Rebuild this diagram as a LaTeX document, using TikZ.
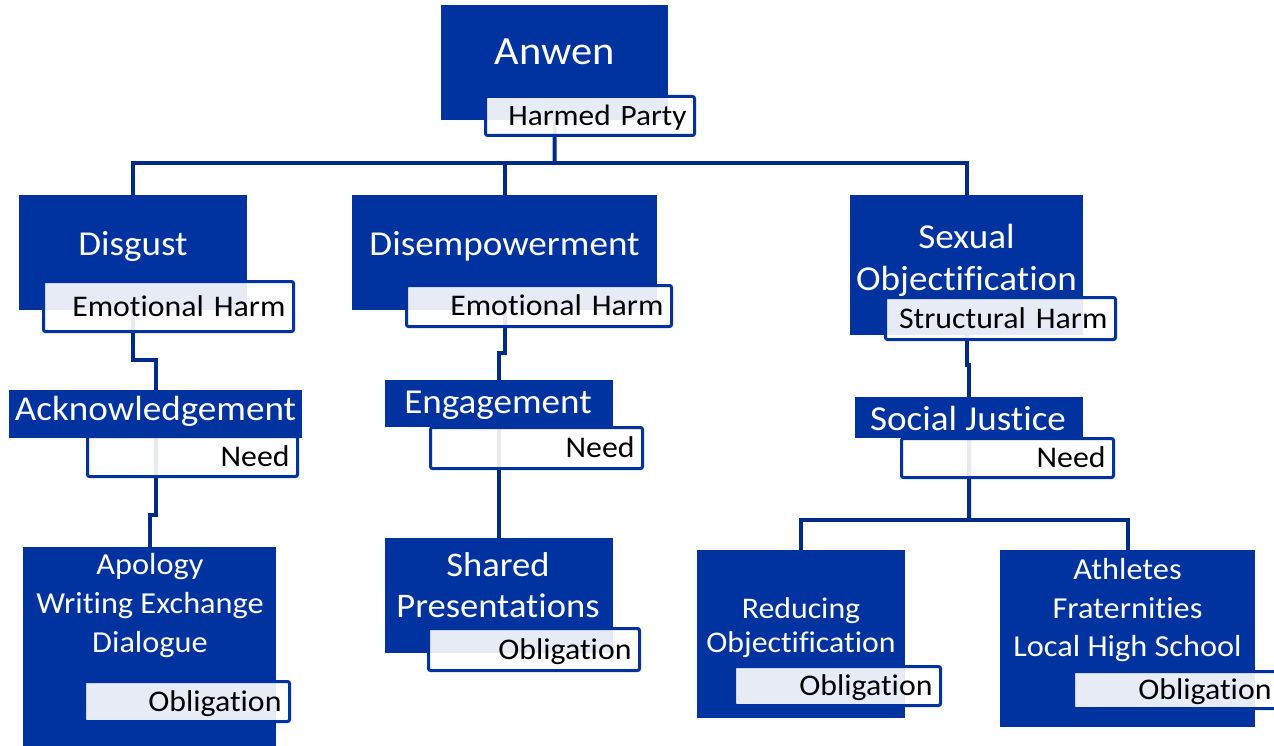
\documentclass[tikz,border=0pt]{standalone}
\usepackage{fontspec}
\setmainfont{Carlito}[Ligatures=NoCommon,FakeStretch=1.06]
\definecolor{boxblue}{RGB}{0,51,160}
\definecolor{linkblue}{RGB}{0,42,135}

\begin{document}
\begin{tikzpicture}[x=1pt,y=-1pt,
  box/.style={fill=boxblue,inner sep=0pt,anchor=north west},
  tag/.style={draw=boxblue,line width=3pt,fill=white,fill opacity=0.9,text opacity=1,
    rounded corners=2pt,inner xsep=8pt,inner ysep=0pt,align=right,
    font=\fontsize{30}{34}\selectfont,text height=19pt,text depth=0pt},
  title/.style={text=white,align=center,inner sep=0pt},
  big/.style={font=\fontsize{35}{42}\selectfont},
  one/.style={text height=22pt,text depth=0pt},
  link/.style={draw=linkblue,line width=4pt}]
\useasboundingbox (0,0) rectangle (1274,746);
\clip (0,0) rectangle (1274,746);

\node[box,minimum width=227pt,minimum height=115pt] (anwen) at (441,5) {};
\node[box,minimum width=228pt,minimum height=115pt] (disgust) at (19,195) {};
\node[box,minimum width=305pt,minimum height=115pt] (disemp) at (352,195) {};
\node[box,minimum width=233pt,minimum height=140pt] (sexual) at (850,195) {};
\node[box,minimum width=293pt,minimum height=48pt] (ack) at (9,390) {};
\node[box,minimum width=228pt,minimum height=47pt] (engage) at (385,380) {};
\node[box,minimum width=228pt,minimum height=41pt] (social) at (855,397) {};
\node[box,minimum width=253pt,minimum height=205pt] (apology) at (23,547) {};
\node[box,minimum width=228pt,minimum height=115pt] (shared) at (385,538) {};
\node[box,minimum width=208pt,minimum height=168pt] (reducing) at (697,550) {};
\node[box,minimum width=255pt,minimum height=177pt] (athletes) at (1000,550) {};

\coordinate (topbar) at (554.5,163);
\coordinate (lowbar) at (969,520);
\draw[link] (anwen.south) -- (topbar);
\draw[link] (disgust.north) |- (topbar);
\draw[link] (disemp.north) |- (topbar);
\draw[link] (sexual.north) |- (topbar);
\draw[link] (disgust.south) -- ++(0,50) -| (ack.north);
\draw[link] (ack.south) -- ++(0,77) -| (apology.north);
\draw[link] (disemp.south) -- ++(0,43) -| (engage.north);
\draw[link] (engage.south) -- (shared.north);
\draw[link] (sexual.south) -- ++(0,30) -| (social.north);
\draw[link] (social.south) -- (lowbar);
\draw[link] (reducing.north) |- (lowbar);
\draw[link] (athletes.north) |- (lowbar);

\node[tag,text width=193pt,minimum height=39pt,font=\fontsize{29.5}{33}\selectfont] (anwen-tag) at (590,116) {Harmed Party};
\node[tag,text width=234pt,minimum height=50pt] (disgust-tag) at (168.5,306.5) {Emotional Harm};
\node[tag,text width=249pt,minimum height=41pt] (disemp-tag) at (539,306) {Emotional Harm};
\node[tag,text width=214pt,minimum height=42pt] (sexual-tag) at (1000.5,318.5) {Structural Harm};
\node[tag,text width=194pt,minimum height=40pt] (ack-tag) at (192.5,456.5) {Need};
\node[tag,text width=196pt,minimum height=41pt] (engage-tag) at (536.5,448) {Need};
\node[tag,text width=196pt,minimum height=39pt] (social-tag) at (1007.5,458) {Need};
\node[tag,text width=189pt,minimum height=40pt] (apology-tag) at (187,701.5) {Obligation};
\node[tag,text width=195pt,minimum height=42pt] (shared-tag) at (534,649.5) {Obligation};
\node[tag,text width=190pt,minimum height=39pt] (reducing-tag) at (837.5,686) {Obligation};
\node[tag,text width=190pt,minimum height=37pt] (athletes-tag) at (1176.5,690) {Obligation};

\node[title,font=\fontsize{40}{46}\selectfont,text height=25pt,text depth=0pt] (anwen-t) at (554.5,52.5) {Anwen};
\node[title,big,one] (disgust-t) at (133,244) {Disgust};
\node[title,big,one] (disemp-t) at (504.5,244) {Disempowerment};
\node[title,big] (sexual-t) at (966.5,260) {Sexual\\Objectification};
\node[title,big,one] (ack-t) at (155.5,409) {Acknowledgement};
\node[title,big,one] (engage-t) at (498,402) {Engagement};
\node[title,big,one] (social-t) at (968,419) {Social Justice};
\node[title,font=\fontsize{30.5}{39}\selectfont] (apology-t) at (150,606) {Apology\\Writing Exchange\\Dialogue};
\node[title,font=\fontsize{34.5}{41}\selectfont] (shared-t) at (498,585.5) {Shared\\Presentations};
\node[title,font=\fontsize{30}{34}\selectfont] (reducing-t) at (801,627.5) {Reducing\\Objectification};
\node[title,font=\fontsize{30.5}{38.5}\selectfont] (athletes-t) at (1127.5,610.5) {Athletes\\Fraternities\\Local High School};
\end{tikzpicture}
\end{document}
